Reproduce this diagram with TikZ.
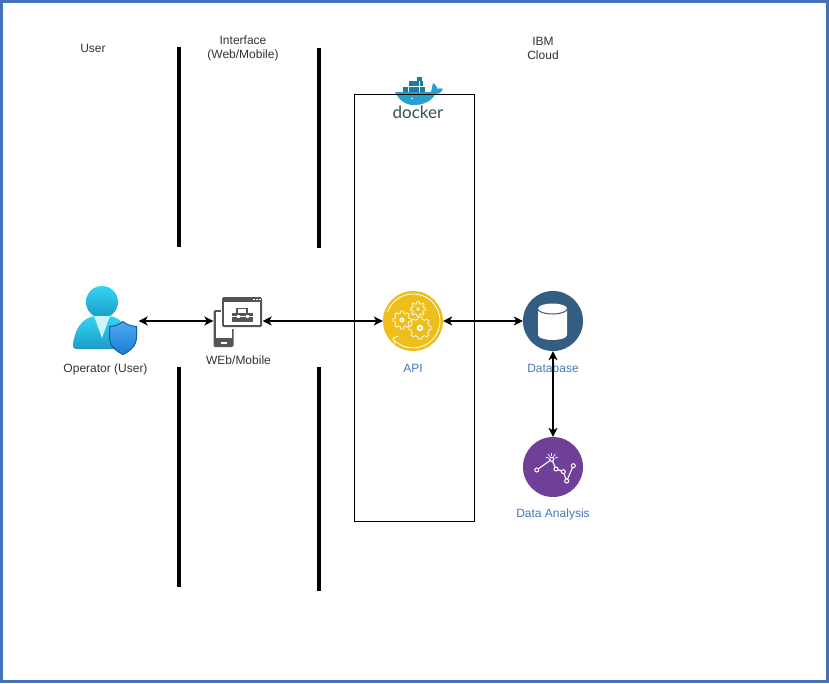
\documentclass[tikz,border=0pt]{standalone}
\usepackage{xcolor}
\usepackage{fontspec}
\setmainfont{Liberation Sans}
\newfontfamily\dockerfont{Lato}
\usetikzlibrary{arrows.meta,calc}
\definecolor{framec}{HTML}{4472B8}
\definecolor{labelc}{HTML}{4478BE}
\definecolor{textc}{HTML}{333333}
\definecolor{apic}{HTML}{EDBE1C}
\definecolor{dbc}{HTML}{335D81}
\definecolor{dac}{HTML}{704099}
\definecolor{iconc}{HTML}{555555}
\definecolor{whalec}{HTML}{27A0D0}
\definecolor{boxc}{HTML}{1F7C9E}
\definecolor{dockertxt}{HTML}{394D54}
\definecolor{headtop}{HTML}{32D4F5}
\definecolor{headbot}{HTML}{1C9CC6}
\definecolor{shieldtop}{HTML}{4FA8EE}
\definecolor{shieldbot}{HTML}{1B7FD6}
\definecolor{shieldedge}{HTML}{0F5E9E}
\tikzset{
  txt/.style={font=\fontsize{12}{14}\selectfont, text=textc, align=center, inner sep=0pt},
  bluetxt/.style={txt, text=labelc},
  bar/.style={draw=black, line width=4pt},
  link/.style={draw=black, line width=1.2pt, {Stealth[length=9pt,width=9pt,inset=2.5pt]}-{Stealth[length=9pt,width=9pt,inset=2.5pt]}},
  disc/.style={circle, minimum size=60pt, inner sep=0pt},
  holder/.style={rectangle, inner sep=0pt},
  cog/.style={draw=white, line width=0.7pt, line join=round},
}
\newcommand{\cogicon}[3]{% x, y, radius
  \draw[cog] ($(#1,#2)+(-14:#3)$) \foreach \a in {0,45,...,315} {
    -- ($(#1,#2)+(\a-14:#3)$) -- ($(#1,#2)+(\a-8:#3+2.2)$) -- ($(#1,#2)+(\a+8:#3+2.2)$) -- ($(#1,#2)+(\a+14:#3)$)} -- cycle;
  \fill[white] (#1,#2) circle (#3*0.36);
  \fill[apic] (#1,#2) circle (#3*0.14);
}
\begin{document}
\begin{tikzpicture}[x=1pt,y=-1pt]
\useasboundingbox (0,0) rectangle (829,683);
\fill[white] (0,0) rectangle (829,683);
\draw[framec, line width=3pt] (1.5,1.5) rectangle (827.5,681.5);
% Lanes
\draw[bar] (178.5,47) -- (178.5,247);
\draw[bar] (318.5,48) -- (318.5,248);
\draw[bar] (178.5,367) -- (178.5,587);
\draw[bar] (318.5,367) -- (318.5,591);
\draw[black, line width=1pt] (354.5,94.5) rectangle (474.5,521.5);
% Headings
\node[txt] (userhead) at (93,48) {User};
\node[txt] (webhead) at (243,48) {Interface\\(Web/Mobile)};
\node[txt] (cloudhead) at (543,48) {IBM\\Cloud};
% Points
\node[holder, minimum width=65pt, minimum height=68pt] (user) at (105,321) {};
\node[holder, minimum width=49pt, minimum height=50pt] (web) at (238,321) {};
\node[disc, fill=apic] (api) at (413,321) {};
\node[disc, fill=dbc] (db) at (553,321) {};
\node[disc, fill=dac] (da) at (553,467) {};
% Labels
\node[txt] (userlabel) at (105.5,369) {Operator (User)};
\node[txt] (weblabel) at (238.5,360) {WEb/Mobile};
\node[bluetxt] (apilabel) at (413,368.5) {API};
\node[bluetxt] (dblabel) at (553,368.5) {Database};
\node[bluetxt] (dalabel) at (553,514) {Data Analysis};
% User icon
\shade[top color=headtop, bottom color=headbot] (102,302) circle (16);
\shade[top color=headtop, bottom color=headbot]
  (76,349) .. controls (73.5,349) and (72.5,347) .. (73,344) .. controls (75,330) and (81,318) .. (95,316) -- (109,316) .. controls (124,318) and (130,330) .. (131,349) -- cycle;
\fill[headtop!25!white] (94,316) -- (110,316) -- (102,338) -- cycle;
\shade[top color=shieldtop, bottom color=shieldbot, draw=shieldedge, line width=1pt]
  (123,321.5) .. controls (127,325) and (131,326) .. (136.5,326.5) -- (136.5,337) .. controls (136.5,346) and (130,351) .. (123,354.5) .. controls (116,351) and (109.5,346) .. (109.5,337) -- (109.5,326.5) .. controls (115,326) and (119,325) .. (123,321.5) -- cycle;
% Web icon
\fill[iconc, rounded corners=1.5pt] (213.5,310) rectangle (233.5,347);
\fill[white] (215.5,312) rectangle (231.5,338);
\fill[white] (221,341.5) rectangle (226.5,343.5);
\fill[white] (220.5,295.5) rectangle (263.5,328.5);
\fill[iconc, rounded corners=1.5pt] (222,297) rectangle (262,327);
\fill[white] (224,302) rectangle (260,325);
\foreach \x in {253,256,259} {\fill[white] (\x,298.8) rectangle ++(1.6,1.6);}
\fill[iconc] (231.5,312.5) rectangle (253,321.5);
\draw[iconc, line width=1.2pt] (237,312.5) -- (237,308.5) -- (247,308.5) -- (247,312.5);
\draw[white, line width=0.8pt] (231.5,316) -- (253,316);
\fill[white] (236.5,314.5) rectangle (239.5,317.5);
\fill[white] (245.5,314.5) rectangle (248.5,317.5);
% API icon
\draw[white, line width=0.8pt] (394.6,340.7) arc[start angle=133, end angle=-160, radius=27];
\draw[white, line width=0.8pt] (393,338) -- (398.5,336) (393,338) -- (395,343.5);
\cogicon{402}{320}{7}
\cogicon{418}{309}{5.5}
\cogicon{420}{328}{9}
% Database icon
\fill[white] (538,308.5) -- (538,335) arc[start angle=180, end angle=0, x radius=14.5, y radius=5] -- (567,308.5) -- cycle;
\fill[white] (552.5,308.5) ellipse (14.5 and 5);
\draw[dbc, line width=1pt] (538,309) arc[start angle=180, end angle=0, x radius=14.5, y radius=5];
% Data Analysis icon
\draw[white, line width=1.1pt] (536.7,470) -- (551.7,459.3) -- (556,469) -- (563.3,471.7) -- (566.7,481) -- (573.3,465.7);
\foreach \x/\y in {536.7/470,551.7/459.3,556/469,563.3/471.7,566.7/481,573.3/465.7} {
  \draw[white, fill=dac, line width=1pt] (\x,\y) circle (2);}
\foreach \a in {-160,-125,-90,-55,-20} {
  \draw[white, line width=0.7pt] ($(551.7,459.3)+(\a:3)$) -- ($(551.7,459.3)+(\a:6.5)$);}
% Docker icon
\fill[whalec] (395,92) -- (431,92) .. controls (432,89) and (432,86) .. (433,83) .. controls (436,85) and (437,87) .. (437.5,89) .. controls (439,88) and (441,88) .. (443,89) .. controls (441,93) and (438,94.5) .. (435,94.5) .. controls (431,102) and (422,105) .. (414,105) .. controls (405,105) and (399,100) .. (395,92) -- cycle;
\foreach \x in {403,408.5,414,419.5} {\fill[boxc] (\x,86.5) rectangle ++(5,5);}
\foreach \x in {408.5,414} {\fill[boxc] (\x,81) rectangle ++(5,5);}
\foreach \x in {419.5} {\fill[boxc] (\x,81) rectangle ++(3,5);}
\fill[boxc] (417,77) rectangle ++(5,4);
\draw[black, line width=1pt] (395,94.5) -- (436,94.5);
\fill[white] (412,98.5) circle (0.9);
\node[holder, font=\dockerfont\fontsize{17}{17}\selectfont, text=dockertxt] (dockerlabel) at (418,112.5) {docker};
% Links
\draw[link] ([xshift=1pt]user.east) -- (web.west);
\draw[link] (web.east) -- (api.west);
\draw[link] (api.east) -- (db.west);
\draw[link] (db.south) -- (da.north);
\end{tikzpicture}
\end{document}
